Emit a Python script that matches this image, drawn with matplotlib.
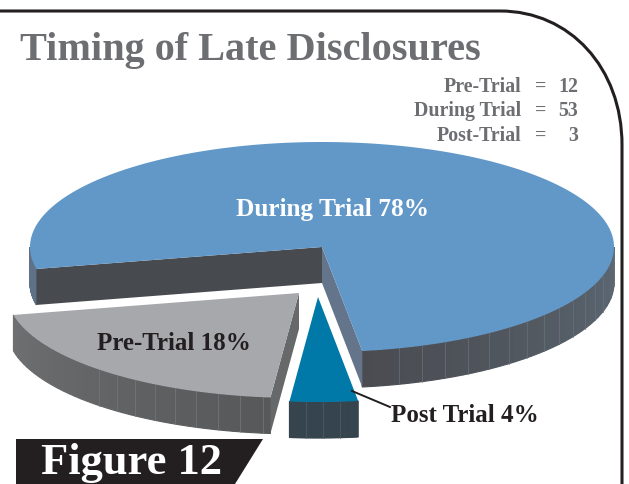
import numpy as np
import matplotlib
matplotlib.use("Agg")
import matplotlib.pyplot as plt
from matplotlib.patches import Polygon, PathPatch
from matplotlib.path import Path
from matplotlib.colors import to_rgb

# ---- data ----
categories = ["Pre-Trial", "During Trial", "Post-Trial"]
counts = [12, 53, 3]
pie_labels = ["Pre-Trial 18%", "During Trial 78%", "Post Trial 4%"]
title = "Timing of Late Disclosures"
figure_label = "Figure 12"

INK = "#231f20"
GREY = "#6d6e71"
SERIF = "Liberation Serif"

fig = plt.figure(figsize=(6.29, 4.84), dpi=100)
ax = fig.add_axes([0, 0, 1, 1])
ax.set_xlim(0, 629)
ax.set_ylim(484, 0)
ax.axis("off")

RX, RY, DEPTH = 292, 105, 36


def warp(t):
    """Foreshortening of the hand-drawn pie: angle -> ellipse parameter."""
    s = np.sin(np.radians(t - 89))
    return t + 8.5 * s * np.abs(s) - 12 * s * np.exp(-(s / 0.3) ** 2)


def pt(c, t):
    r = np.radians(t)
    return np.array([c[0] + RX * np.cos(r), c[1] + RY * np.sin(r)])


def arc(c, a, b, n=120):
    return np.array([pt(c, t) for t in np.linspace(a, b, n)])


def rim(c, a, b, col_a, col_b, line, step, line_from=None, line_to=None):
    ts = np.linspace(a, b, 40)
    ca, cb = np.array(to_rgb(col_a)), np.array(to_rgb(col_b))
    for i in range(len(ts) - 1):
        seg = arc(c, ts[i], ts[i + 1], 4)
        poly = np.vstack([seg, seg[::-1] + [0, DEPTH]])
        f = i / (len(ts) - 2)
        col = ca + (cb - ca) * f
        ax.add_patch(Polygon(poly, fc=col, ec=col, lw=0.8, zorder=2))
    lo = a if line_from is None else line_from
    hi = b if line_to is None else line_to
    for t in np.arange(lo, hi, step):
        p = pt(c, t)
        ax.plot([p[0], p[0]], [p[1], p[1] + DEPTH], color=line, lw=0.5, zorder=2.5)


def wall(c, t, col, z=3):
    p = pt(c, t)
    poly = [c, p, p + [0, DEPTH], np.array(c) + [0, DEPTH]]
    ax.add_patch(Polygon(poly, fc=col, ec="none", zorder=z))


def top(c, a, b, col):
    poly = np.vstack([[c], arc(c, a, b, 240)])
    ax.add_patch(Polygon(poly, fc=col, ec="none", zorder=4))


# wedge boundaries from the counts (post-trial sits at the front of the pie)
total = sum(counts)
sweep = [360 * v / total for v in counts]
post_a = 80.9
post_b = post_a + sweep[2]
pre_a = post_b
pre_b = pre_a + sweep[0]
dur_a = pre_b
dur_b = post_a + 360

C_DUR = (322, 247)
C_PRE = (299, 293)
C_POST = (318, 297)

# During Trial
d0, d1 = warp(dur_a), warp(dur_b)
rim(C_DUR, d1 - 360, 0, "#4a4c51", "#5c6873", "#66727f", 4.9, line_from=16, line_to=77)
rim(C_DUR, 180, d0, "#5f7186", "#5f7186", "#5f7186", 90)
wall(C_DUR, d0, "#474a4f", z=3.2)
wall(C_DUR, d1, "#64748a", z=3)
top(C_DUR, d0, d1, "#6198c8")

# Pre-Trial
p0, p1 = warp(pre_a), warp(pre_b)
rim(C_PRE, p0, p1, "#57585a", "#6e6f71", "#77787a", 4.5, line_from=p0 + 1.5, line_to=136)
wall(C_PRE, p0, "#67686a")
top(C_PRE, p0, p1, "#a7a8ac")

# Post-Trial
q0, q1 = warp(post_a), warp(post_b)
rim(C_POST, q0, q1, "#36444e", "#36444e", "#4a6070", 3.4, line_from=q0 + 3.5)
top(C_POST, q0, q1, "#0078a8")

# leader line
ax.plot([352, 390], [391, 407], color=INK, lw=1.4, zorder=5)

# frame
verts = [(0, 11), (500, 11), (570, 11), (622, 68), (622, 145), (622, 484)]
codes = [Path.MOVETO, Path.LINETO, Path.CURVE4, Path.CURVE4, Path.CURVE4, Path.LINETO]
ax.add_patch(PathPatch(Path(verts, codes), fc="none", ec=INK, lw=2.2, zorder=1))

# figure tag
ax.add_patch(Polygon([(16, 439), (263, 439), (235, 484), (16, 484)], fc=INK, ec="none", zorder=6))
ax.text(41, 474, figure_label, family=SERIF, weight="bold", size=32, color="white", va="baseline", zorder=7)

# title
ax.text(20, 60, title, family=SERIF, weight="bold", size=29, color=GREY, va="baseline", zorder=7)

# counts block
rows_y = [92, 116, 141]
for cat, v, y in zip(categories, counts, rows_y):
    kw = dict(family=SERIF, weight="bold", size=14.3, color=GREY, va="baseline", zorder=7)
    ax.text(521, y, cat, ha="right", **kw)
    ax.text(541, y, "=", ha="center", **kw)
    ax.text(578, y, str(v), ha="right", **kw)

# slice labels
ax.text(332, 216, pie_labels[1], family=SERIF, weight="bold", size=18.2, color="white", ha="center", va="baseline", zorder=7)
ax.text(174, 350, pie_labels[0], family=SERIF, weight="bold", size=18, color=INK, ha="center", va="baseline", zorder=7)
ax.text(391, 422, pie_labels[2], family=SERIF, weight="bold", size=18, color=INK, ha="left", va="baseline", zorder=7)

fig.savefig("out.png", dpi=100)
